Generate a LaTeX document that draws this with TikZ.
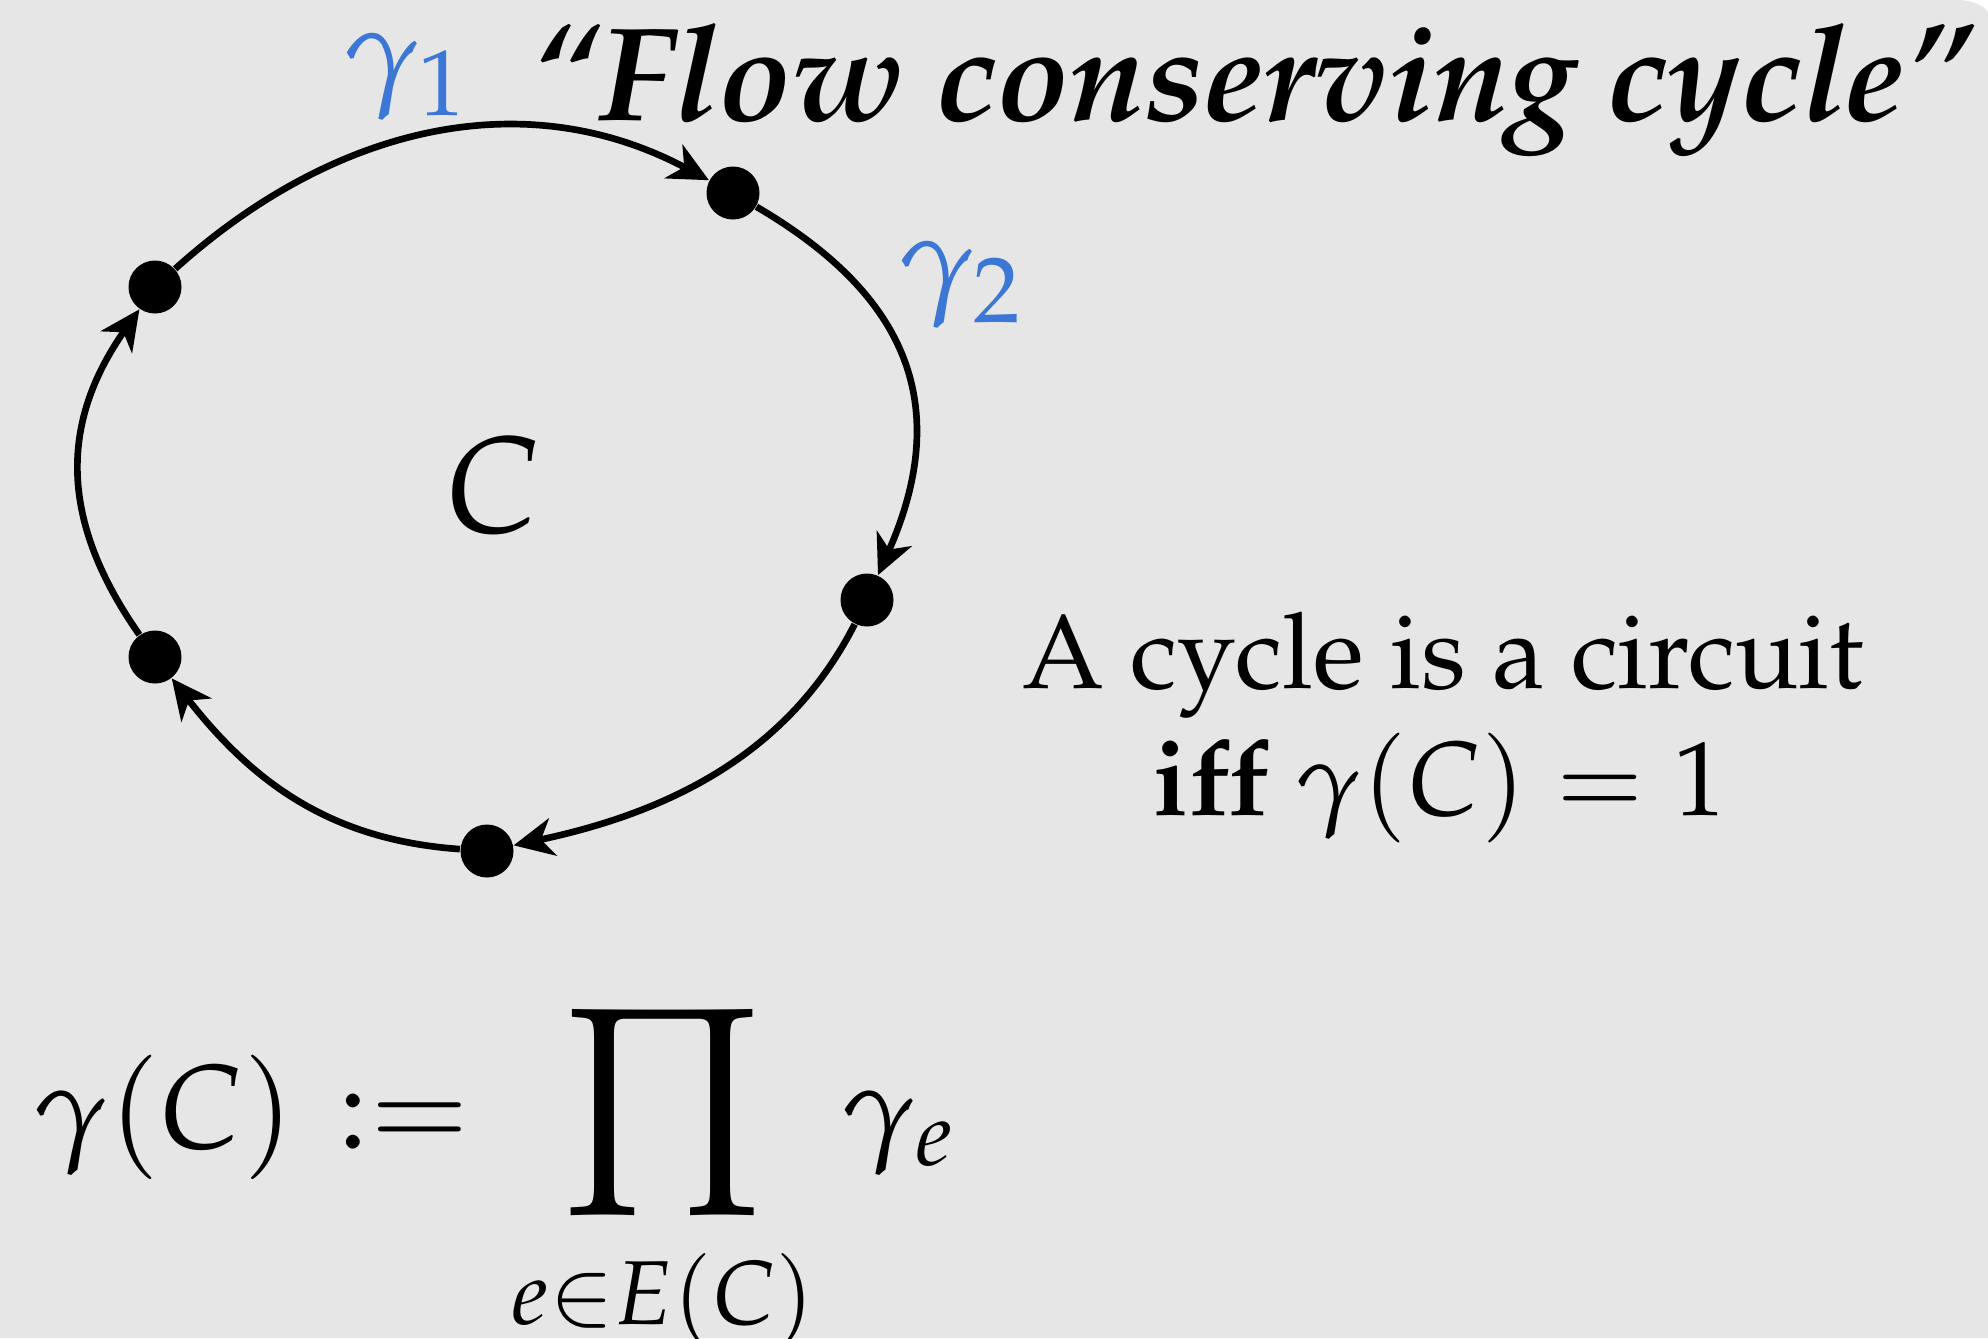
\documentclass[tikz,border=0pt]{standalone}
\usepackage[T1]{fontenc}
\usepackage{mathpazo}
\usepackage{amsmath,amssymb}
\usepackage{graphicx}
\usepackage{tikz}
\usetikzlibrary{arrows.meta,positioning}

\definecolor{bggray}{RGB}{230,230,230}
\definecolor{gblue}{RGB}{60,119,214}

\begin{document}
\begin{tikzpicture}[
  ar/.style={-{Stealth[length=4mm,width=3.8mm,inset=1.2mm]},line width=1.9pt},
  vtx/.style={circle,fill=black,inner sep=0pt,minimum size=5.3mm},
  glab/.style={text=gblue,inner sep=0pt,font=\fontsize{35}{42}\selectfont},
  ttl/.style={inner sep=0pt,font=\fontsize{38}{46}\selectfont\bfseries\itshape},
  txt/.style={inner sep=0pt,font=\fontsize{30}{36}\selectfont},
  fml/.style={inner sep=0pt,font=\fontsize{34}{41}\selectfont}]
% background, round corner top right
\useasboundingbox (0,0) rectangle (19.88,-13.38);
\fill[white] (0,0) rectangle (19.88,-13.38);
\fill[bggray] (0,0) -- (19.57,0) .. controls (19.70,0) and (19.82,-0.04) .. (19.88,-0.12)
  -- (19.88,-13.38) -- (0,-13.38) -- cycle;

% the cycle
\node[vtx] (v1) at (7.33,-1.93) {};
\node[vtx] (v2) at (8.67,-6.00) {};
\node[vtx] (v3) at (4.87,-8.51) {};
\node[vtx] (v4) at (1.55,-6.57) {};
\node[vtx] (v5) at (1.55,-2.87) {};
\draw[ar] (v5) to[out=42,in=152,looseness=1.0] (v1);
\draw[ar] (v1) .. controls (8.9,-2.85) and (9.6,-3.9) .. (v2);
\draw[ar] (v2) to[out=-117,in=12,looseness=0.95] (v3);
\draw[ar] (v3) to[out=176,in=-52,looseness=1.0] (v4);
\draw[ar] (v4) to[out=125,in=-125,looseness=1.1] (v5);

\node[glab] (g1) at (4.05,-0.77) {$\gamma_1$};
\node[glab] (g2) at (9.60,-2.85) {$\gamma_2$};
\node[inner sep=0pt,font=\fontsize{39}{46}\selectfont] (lblC) at (4.93,-4.86) {$C$};

% title
\node[ttl,anchor=base west] (title) at (5.32,-1.20) {``Flow conserving cycle''};

% right text
\node[txt,anchor=base] (cyc1) at (14.43,-6.88) {A cycle is a circuit};
\node[txt,anchor=base] (cyc2) at (14.40,-8.15) {\textbf{iff} $\gamma(C)=1$};

% definition
\node[fml,anchor=base west] (lhs) at (0.32,-11.48) {$\gamma(C)$};
\node[fml,anchor=base west] (defeq) at (3.36,-11.48) {${:}{=}$};
\node[fml,anchor=base] (prodop) at (6.63,-11.42)
  {$\displaystyle\mathop{\vcenter{\hbox{\scalebox{1.25}[1.37]{$\displaystyle\prod$}}}}\limits_{\rule{0pt}{0.75em}e\in E(C)}$};
\node[fml,anchor=base west] (gme) at (8.40,-11.48) {$\gamma_e$};
\end{tikzpicture}
\end{document}
